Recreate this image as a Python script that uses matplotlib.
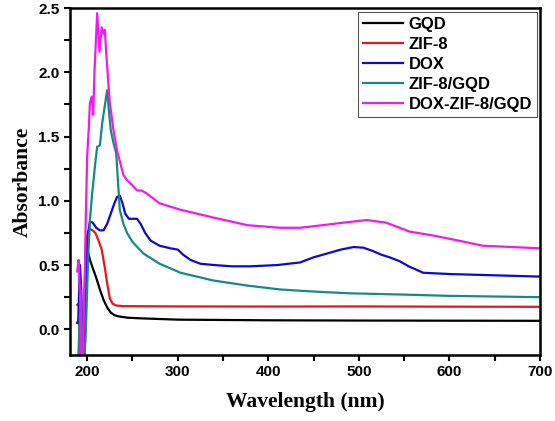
import matplotlib
matplotlib.use("Agg")
import matplotlib.pyplot as plt
from matplotlib.ticker import MultipleLocator

# UV-vis absorbance spectra
labels = ["GQD", "ZIF-8", "DOX", "ZIF-8/GQD", "DOX-ZIF-8/GQD"]
colors = ["#000000", "#e8161b", "#0a0ad2", "#148a84", "#f019f0"]

gqd_x = [189, 191, 193, 195, 197, 198.5, 200, 201, 203, 206, 210, 214, 218, 222, 226, 230, 235, 245, 260, 300, 400, 500, 600, 700]
gqd_y = [0.05, 0.08, -0.2, -0.25, -0.25, 0.2, 0.6, 0.6, 0.54, 0.48, 0.40, 0.31, 0.23, 0.17, 0.13, 0.11, 0.10, 0.09, 0.085, 0.075, 0.07, 0.068, 0.067, 0.066]

zif_x = [189, 191, 193, 195, 197, 199, 201, 203, 206, 209, 212, 216, 219, 222, 225, 228, 232, 240, 300, 400, 500, 600, 700]
zif_y = [0.19, 0.2, -0.25, -0.25, 0.3, 0.7, 0.76, 0.78, 0.77, 0.75, 0.70, 0.62, 0.50, 0.36, 0.24, 0.20, 0.185, 0.18, 0.178, 0.177, 0.178, 0.176, 0.175]

dox_x = [190, 192, 193.5, 195, 197, 199, 201, 203, 206, 210, 214, 218, 222, 226, 230, 233, 236, 239, 242, 246, 250, 255, 259, 264, 270, 280, 292, 300, 306, 314, 325, 340, 360, 380, 410, 435, 450, 465, 480, 494, 505, 515, 525, 534, 545, 555, 571, 600, 650, 700]
dox_y = [0.05, 0.5, 0.3, -0.25, -0.25, 0.4, 0.75, 0.84, 0.83, 0.79, 0.77, 0.77, 0.82, 0.90, 0.98, 1.03, 1.04, 0.98, 0.90, 0.86, 0.86, 0.86, 0.82, 0.75, 0.69, 0.65, 0.63, 0.62, 0.58, 0.54, 0.51, 0.50, 0.49, 0.49, 0.50, 0.52, 0.56, 0.59, 0.62, 0.64, 0.635, 0.61, 0.58, 0.56, 0.53, 0.49, 0.44, 0.43, 0.42, 0.41]

zg_x = [190, 193, 195, 197, 199, 201, 203, 205.5, 207, 209, 211, 214, 216.5, 219, 222, 224, 226, 229, 232, 234, 236, 240, 244, 250, 262, 280, 303, 339, 377, 413, 435, 460, 490, 550, 600, 650, 700]
zg_y = [-0.25, 0.3, -0.25, -0.25, 0.1, 0.54, 0.85, 1.06, 1.16, 1.3, 1.42, 1.43, 1.60, 1.72, 1.86, 1.7, 1.55, 1.45, 1.37, 1.15, 0.93, 0.82, 0.75, 0.68, 0.59, 0.51, 0.44, 0.38, 0.34, 0.31, 0.30, 0.29, 0.28, 0.27, 0.26, 0.255, 0.25]

dzg_x = [189, 190.5, 192, 193.5, 195, 197, 198.5, 200, 202, 203, 205, 206.6, 208, 211, 213.5, 216, 218, 219.5, 221, 223, 225, 229, 233, 240, 244, 250, 255, 260, 265, 280, 303, 339, 377, 413, 435, 460, 483, 509, 530, 545, 556, 582, 610, 637, 670, 700]
dzg_y = [0.45, 0.54, 0.3, -0.25, -0.25, 0.3, 0.9, 1.35, 1.6, 1.76, 1.81, 1.67, 2.0, 2.46, 2.16, 2.35, 2.30, 2.33, 2.15, 1.95, 1.76, 1.55, 1.39, 1.20, 1.16, 1.12, 1.08, 1.08, 1.06, 0.98, 0.93, 0.87, 0.81, 0.79, 0.79, 0.81, 0.83, 0.85, 0.83, 0.79, 0.76, 0.73, 0.69, 0.65, 0.64, 0.63]

series = [(gqd_x, gqd_y), (zif_x, zif_y), (dox_x, dox_y), (zg_x, zg_y), (dzg_x, dzg_y)]

sans = "Liberation Sans"
serif = "Liberation Serif"

fig = plt.figure(figsize=(5.55, 4.21), dpi=100)
ax = fig.add_axes([70/555, 66/421, 470/555, 347/421])

for (x, y), lab, c in zip(series, labels, colors):
    ax.plot(x, y, color=c, lw=1.6, label=lab)

ax.set_xlim(181, 700)
ax.set_ylim(-0.2, 2.5)
ax.xaxis.set_major_locator(MultipleLocator(100))
ax.xaxis.set_minor_locator(MultipleLocator(50))
ax.yaxis.set_major_locator(MultipleLocator(0.5))
ax.yaxis.set_minor_locator(MultipleLocator(0.25))
ax.tick_params(which="both", direction="out", width=1.5, length=4)
for sp in ax.spines.values():
    sp.set_linewidth(1.8)

for t in ax.get_xticklabels() + ax.get_yticklabels():
    t.set_fontfamily(sans)
    t.set_fontweight("bold")
    t.set_fontsize(11)

ax.set_xlabel("Wavelength (nm)", fontfamily=serif, fontweight="bold", fontsize=15.5, labelpad=9)
ax.set_ylabel("Absorbance", fontfamily=serif, fontweight="bold", fontsize=15.5, labelpad=4)

leg = ax.legend(loc="upper right", bbox_to_anchor=(0.9936, 0.988), borderaxespad=0, fancybox=False,
                framealpha=1, edgecolor="#555555", handlelength=2.4, handletextpad=0.3,
                labelspacing=0.3, borderpad=0.3,
                prop={"family": sans, "weight": "bold", "size": 12})
leg.get_frame().set_linewidth(0.8)

fig.savefig("out.png", dpi=100)
